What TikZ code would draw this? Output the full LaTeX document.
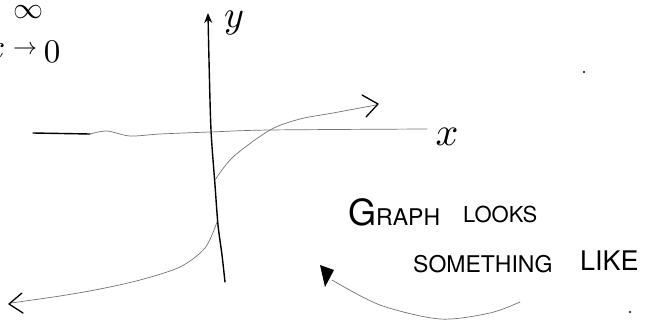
\documentclass[tikz,border=0pt]{standalone}
\usepackage{fontspec}
\setsansfont{TeX Gyre Heros}
\usetikzlibrary{arrows.meta}
\begin{document}
\begin{tikzpicture}[x=1pt,y=-1pt,
  hand/.style={font=\sffamily, inner sep=0pt},
  mlabel/.style={inner sep=0pt},
  axis/.style={line width=1.4pt, black, line cap=round},
  sketch/.style={line width=0.7pt, black!55, line cap=round},
  chev/.style={line width=1.3pt, black, line cap=round, line join=round}]
\useasboundingbox (0,0) rectangle (656,322);
% y axis
\draw[axis, -{Stealth[length=10pt,width=8pt]}] plot[smooth] coordinates {(225,282) (222,255) (218,225) (215,185) (211,130) (209,60) (208,13)};
% x axis
\draw[axis] (33,133) -- (90,134);
\draw[sketch] plot[smooth] coordinates {(90,134) (107,131) (130,136) (160,134) (210,132) (270,130) (427,129)};
% upper branch
\draw[sketch] plot[smooth] coordinates {(215,180) (233,157) (270,130) (300,119) (333,113) (376,105)};
\draw[chev] (362,95) -- (378,104) -- (366,117);
% lower branch
\draw[sketch] plot[smooth] coordinates {(217,222) (205,248) (180,267) (140,280) (100,289) (60,296) (11,303)};
\draw[chev] (22,293) -- (9,304) -- (23,313);
% pointer arrow
\fill (320,265) -- (334,270) -- (325,287) -- cycle;
\draw[sketch] plot[smooth] coordinates {(332,280) (380,305) (440,319) (490,313) (520,302)};
% dots
\fill (584,72) circle (1.1pt);
\fill (630,312) circle (1.1pt);
% labels
\node[mlabel, scale=3] (inf) at (28,12) {$\infty$};
\node[mlabel, scale=3.4, anchor=east] (lx) at (6,51) {$x$};
\node[mlabel, scale=2.4] (larr) at (25,50) {$\rightarrow$};
\node[mlabel, scale=3.3] (lzero) at (52,52) {$0$};
\node[mlabel, scale=3.8] (ylab) at (234,23) {$y$};
\node[mlabel, scale=4] (xlab) at (447,137) {$x$};
\node[hand, anchor=base west] (graph) at (348,225) {\fontsize{36}{36}\selectfont G\fontsize{23}{23}\selectfont RAPH};
\node[hand, anchor=base west] (looks) at (463,222) {\fontsize{22}{22}\selectfont LOOKS};
\node[hand, anchor=base west] (some) at (413,272) {\fontsize{23}{23}\selectfont SOMETHING};
\node[hand, anchor=base west] (like) at (580,270) {\fontsize{27}{27}\selectfont LIKE};
\end{tikzpicture}
\end{document}
